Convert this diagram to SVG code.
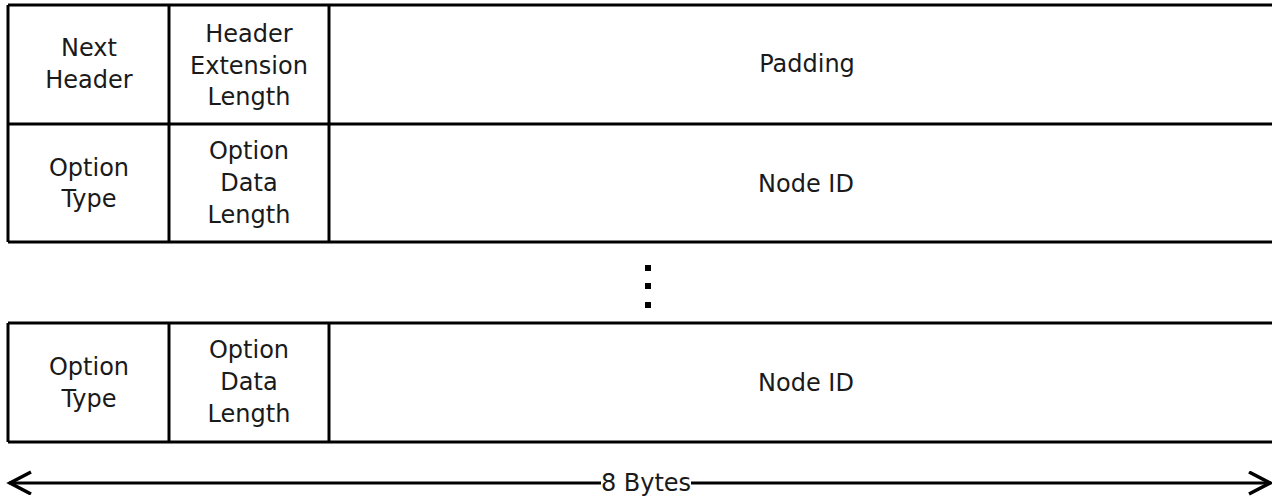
<svg xmlns="http://www.w3.org/2000/svg" width="1272" height="496" viewBox="0 0 1272 496">
<style>
.ln{stroke:#000;stroke-width:3;fill:none}
.t{font-family:"DejaVu Sans",sans-serif;font-size:24px;fill:#1a1a1a;text-anchor:middle}
</style>
<defs>
<marker id="ah" markerWidth="26" markerHeight="26" refX="23" refY="12" orient="auto-start-reverse" markerUnits="userSpaceOnUse">
<path d="M1,1 L22,12 L1,23" fill="none" stroke="#000" stroke-width="3.5"/>
</marker>
</defs>
<rect width="1272" height="496" fill="#fff"/>
<g id="row1">
<line class="ln" x1="8" y1="5" x2="1272" y2="5"/>
<line class="ln" x1="8" y1="124" x2="1272" y2="124"/>
<line class="ln" x1="8" y1="5" x2="8" y2="124"/>
<line class="ln" x1="169" y1="5" x2="169" y2="124"/>
<line class="ln" x1="329" y1="5" x2="329" y2="124"/>
<text class="t" x="89" y="56">Next</text>
<text class="t" x="89" y="88">Header</text>
<text class="t" x="249" y="42">Header</text>
<text class="t" x="249" y="74">Extension</text>
<text class="t" x="249" y="105">Length</text>
<text class="t" x="807" y="72">Padding</text>
</g>
<g id="row2">
<line class="ln" x1="8" y1="242" x2="1272" y2="242"/>
<line class="ln" x1="8" y1="124" x2="8" y2="242"/>
<line class="ln" x1="169" y1="124" x2="169" y2="242"/>
<line class="ln" x1="329" y1="124" x2="329" y2="242"/>
<text class="t" x="89" y="176">Option</text>
<text class="t" x="89" y="207">Type</text>
<text class="t" x="249" y="159">Option</text>
<text class="t" x="249" y="191">Data</text>
<text class="t" x="249" y="223">Length</text>
<text class="t" x="806" y="192">Node ID</text>
</g>
<g id="ellipsis">
<rect x="645" y="265" width="6" height="6" fill="#000"/>
<rect x="645" y="283" width="6" height="6" fill="#000"/>
<rect x="645" y="302" width="6" height="6" fill="#000"/>
</g>
<g id="row3">
<line class="ln" x1="8" y1="323" x2="1272" y2="323"/>
<line class="ln" x1="8" y1="442" x2="1272" y2="442"/>
<line class="ln" x1="8" y1="323" x2="8" y2="442"/>
<line class="ln" x1="169" y1="323" x2="169" y2="442"/>
<line class="ln" x1="329" y1="323" x2="329" y2="442"/>
<text class="t" x="89" y="375">Option</text>
<text class="t" x="89" y="407">Type</text>
<text class="t" x="249" y="358">Option</text>
<text class="t" x="249" y="390">Data</text>
<text class="t" x="249" y="422">Length</text>
<text class="t" x="806" y="391">Node ID</text>
</g>
<g id="connectors">
<line class="ln" x1="601" y1="483" x2="9" y2="483" marker-end="url(#ah)"/>
<line class="ln" x1="691" y1="483" x2="1271" y2="483" marker-end="url(#ah)"/>
<text class="t" x="646" y="491">8 Bytes</text>
</g>
</svg>
